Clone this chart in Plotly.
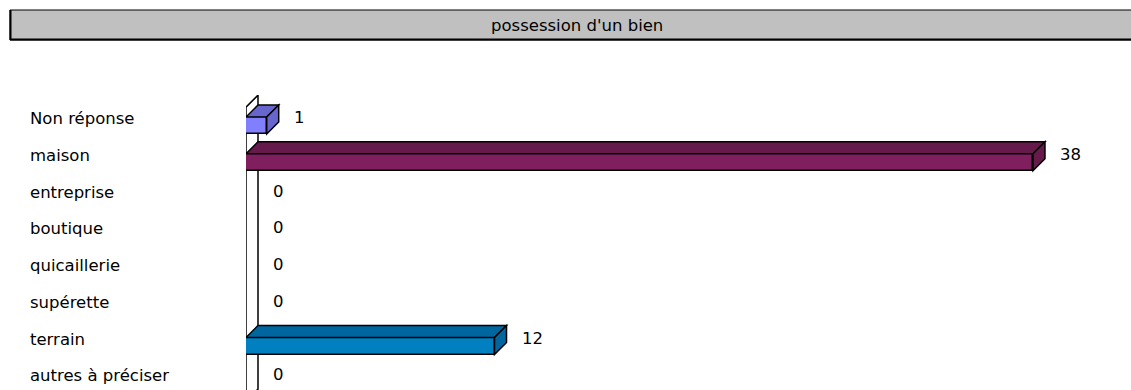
import plotly.graph_objects as go

# ---- data ----
categories = ["Non réponse", "maison", "entreprise", "boutique", "quicaillerie",
              "supérette", "terrain", "autres à préciser"]
values = [1, 38, 0, 0, 0, 0, 12, 0]
front_colors = ["#8080FF", "#801F5E", "#8080FF", "#8080FF", "#8080FF", "#8080FF", "#0080C0", "#8080FF"]
dark_colors = ["#6666CC", "#661A4B", "#6666CC", "#6666CC", "#6666CC", "#6666CC", "#0066A0", "#6666CC"]
title_text = "possession d'un bien"

# ---- layout constants (pixels) ----
W, H = 1131, 390
PLOT_L, PLOT_R, PLOT_T, PLOT_B = 246, 1116, 95, 390
PX_X = 20.71          # pixels per unit on value axis
ROW0, ROW_STEP = 125.5, 36.75
DEPTH = 12            # 3D depth offset in px
BAR_PX = 17
FONT = "DejaVu Sans, Liberation Sans, Arial, sans-serif"
FS = 16.5

x_max = (PLOT_R - PLOT_L) / PX_X
y_bot = (PLOT_B - ROW0) / ROW_STEP
y_top = (PLOT_T - ROW0) / ROW_STEP
dx = DEPTH / PX_X
dy = DEPTH / ROW_STEP
bw = BAR_PX / ROW_STEP
h = bw / 2

pos = list(range(len(categories)))

fig = go.Figure()
fig.add_trace(go.Bar(
    x=values, y=pos, orientation="h", width=bw,
    marker=dict(color=front_colors, line=dict(color="black", width=1.5)),
    hoverinfo="skip", showlegend=False,
))

shapes = []
# wall
n = len(categories)
shapes.append(dict(
    type="path", xref="x", yref="y", layer="below",
    path=f"M0,{-0.5} L{dx},{-0.5 - dy} L{dx},{n - 0.5 - dy} L0,{n - 0.5} Z",
    fillcolor="white", line=dict(color="black", width=1.5),
))
# 3D faces
for i, v in enumerate(values):
    if v <= 0:
        continue
    yt = i - h
    yb = i + h
    shapes.append(dict(
        type="path", xref="x", yref="y", layer="above",
        path=f"M0,{yt} L{v},{yt} L{v + dx},{yt - dy} L{dx},{yt - dy} Z",
        fillcolor=dark_colors[i], line=dict(color="black", width=1.5),
    ))
    shapes.append(dict(
        type="path", xref="x", yref="y", layer="above",
        path=f"M{v},{yt} L{v + dx},{yt - dy} L{v + dx},{yb - dy} L{v},{yb} Z",
        fillcolor=dark_colors[i], line=dict(color="black", width=1.5),
    ))

# title box (paper coordinates computed from pixels)
pw = PLOT_R - PLOT_L
ph = PLOT_B - PLOT_T
def px2paper_x(px):
    return (px - PLOT_L) / pw
def px2paper_y(py):
    return (PLOT_B - py) / ph

shapes.append(dict(type="rect", xref="paper", yref="paper",
                   x0=px2paper_x(10), x1=px2paper_x(1145),
                   y0=px2paper_y(40), y1=px2paper_y(10),
                   fillcolor="#C0C0C0", line=dict(color="black", width=1)))
shapes.append(dict(type="line", xref="paper", yref="paper",
                   x0=px2paper_x(10), x1=px2paper_x(1145),
                   y0=px2paper_y(39.5), y1=px2paper_y(39.5),
                   line=dict(color="black", width=2)))
shapes.append(dict(type="line", xref="paper", yref="paper",
                   x0=px2paper_x(10.5), x1=px2paper_x(10.5),
                   y0=px2paper_y(40), y1=px2paper_y(10),
                   line=dict(color="black", width=2)))

annotations = []
annotations.append(dict(xref="paper", yref="paper", x=px2paper_x(577), y=px2paper_y(26),
                        text=title_text, showarrow=False, xanchor="center", yanchor="middle",
                        font=dict(family=FONT, size=FS, color="black")))
for i, (c, v) in enumerate(zip(categories, values)):
    annotations.append(dict(xref="paper", yref="y", x=px2paper_x(28), y=i, yshift=7,
                            text=c, showarrow=False, xanchor="left", yanchor="middle",
                            font=dict(family=FONT, size=FS, color="black")))
    annotations.append(dict(xref="x", yref="y", x=v, y=i, xshift=25, yshift=8,
                            text=str(v), showarrow=False, xanchor="left", yanchor="middle",
                            font=dict(family=FONT, size=FS, color="black")))

fig.update_layout(
    width=W, height=H,
    margin=dict(l=PLOT_L, r=W - PLOT_R, t=PLOT_T, b=H - PLOT_B, pad=0),
    paper_bgcolor="white", plot_bgcolor="white",
    xaxis=dict(range=[0, x_max], visible=False, fixedrange=True),
    yaxis=dict(range=[y_bot, y_top], visible=False, fixedrange=True),
    shapes=shapes, annotations=annotations,
    bargap=0,
)

fig.write_html("out.html")
